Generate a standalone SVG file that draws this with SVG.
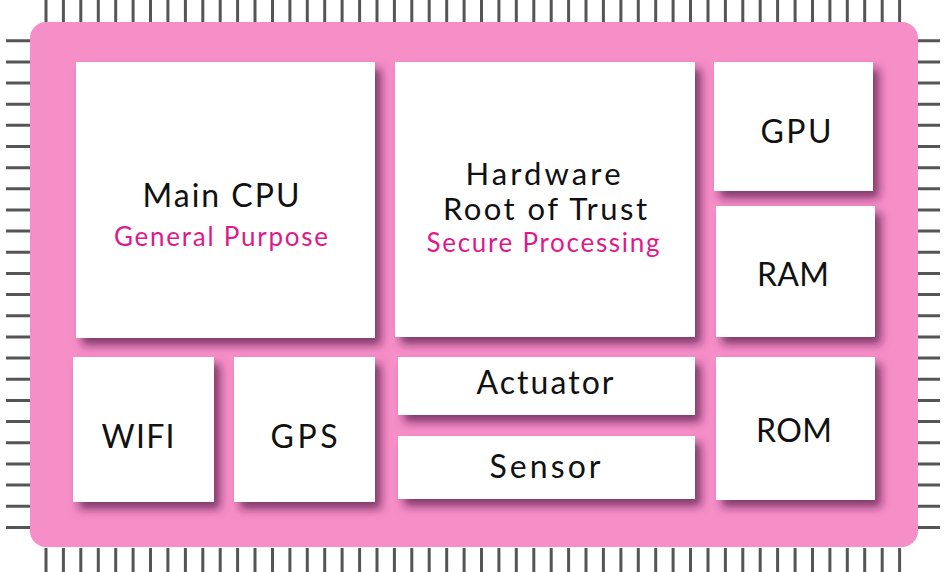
<svg xmlns="http://www.w3.org/2000/svg" width="948" height="572" viewBox="0 0 948 572">
<defs>
<filter id="sh" x="-20%" y="-20%" width="150%" height="150%">
<feDropShadow dx="6" dy="7" stdDeviation="5" flood-color="#5a1d48" flood-opacity="0.75"/>
</filter>
<style>
.pins{fill:none;stroke:#555555;stroke-width:3}
.box{fill:#ffffff;filter:url(#sh)}
.t{font-family:Lato,"Noto Sans","DejaVu Sans",sans-serif;font-size:32px;fill:#111111;text-anchor:middle}
.h{font-size:31px}
.s{font-family:Lato,"Noto Sans","DejaVu Sans",sans-serif;font-size:26px;fill:#e0198b;text-anchor:middle}
</style>
</defs>
<g id="pins">
<path class="pins" d="M46 0V22M63.4 0V22M80.8 0V22M98.3 0V22M115.7 0V22M133.1 0V22M150.5 0V22M167.9 0V22M185.4 0V22M202.8 0V22M220.2 0V22M237.6 0V22M255 0V22M272.5 0V22M289.9 0V22M307.3 0V22M324.7 0V22M342.1 0V22M359.6 0V22M377 0V22M394.4 0V22M411.8 0V22M429.2 0V22M446.7 0V22M464.1 0V22M481.5 0V22M498.9 0V22M516.3 0V22M533.8 0V22M551.2 0V22M568.6 0V22M586 0V22M603.4 0V22M620.9 0V22M638.3 0V22M655.7 0V22M673.1 0V22M690.5 0V22M708 0V22M725.4 0V22M742.8 0V22M760.2 0V22M777.6 0V22M795.1 0V22M812.5 0V22M829.9 0V22M847.3 0V22M864.7 0V22M882.2 0V22M899.6 0V22"/>
<path class="pins" d="M46 548V572M63.4 548V572M80.8 548V572M98.3 548V572M115.7 548V572M133.1 548V572M150.5 548V572M167.9 548V572M185.4 548V572M202.8 548V572M220.2 548V572M237.6 548V572M255 548V572M272.5 548V572M289.9 548V572M307.3 548V572M324.7 548V572M342.1 548V572M359.6 548V572M377 548V572M394.4 548V572M411.8 548V572M429.2 548V572M446.7 548V572M464.1 548V572M481.5 548V572M498.9 548V572M516.3 548V572M533.8 548V572M551.2 548V572M568.6 548V572M586 548V572M603.4 548V572M620.9 548V572M638.3 548V572M655.7 548V572M673.1 548V572M690.5 548V572M708 548V572M725.4 548V572M742.8 548V572M760.2 548V572M777.6 548V572M795.1 548V572M812.5 548V572M829.9 548V572M847.3 548V572M864.7 548V572M882.2 548V572M899.6 548V572"/>
<path class="pins" d="M6 40.7H30M6 61.9H30M6 83H30M6 104.2H30M6 125.3H30M6 146.5H30M6 167.7H30M6 188.8H30M6 210H30M6 231.1H30M6 252.3H30M6 273.5H30M6 294.6H30M6 315.8H30M6 336.9H30M6 358.1H30M6 379.3H30M6 400.4H30M6 421.6H30M6 442.7H30M6 463.9H30M6 485.1H30M6 506.2H30M6 527.4H30"/>
<path class="pins" d="M918 40.7H940M918 61.9H940M918 83H940M918 104.2H940M918 125.3H940M918 146.5H940M918 167.7H940M918 188.8H940M918 210H940M918 231.1H940M918 252.3H940M918 273.5H940M918 294.6H940M918 315.8H940M918 336.9H940M918 358.1H940M918 379.3H940M918 400.4H940M918 421.6H940M918 442.7H940M918 463.9H940M918 485.1H940M918 506.2H940M918 527.4H940"/>
</g>
<g id="chip">
<rect x="30" y="22" width="888" height="525" rx="16" fill="#f68ec8"/>
</g>
<g id="main-cpu">
<rect class="box" x="76" y="62" width="299" height="276"/>
<text class="t" x="221" y="207" textLength="157" lengthAdjust="spacing">Main CPU</text>
<text class="s" x="221" y="246" textLength="214" lengthAdjust="spacing">General Purpose</text>
</g>
<g id="hrot">
<rect class="box" x="395" y="62" width="300" height="275"/>
<text class="t h" x="543" y="185" textLength="155" lengthAdjust="spacing">Hardware</text>
<text class="t h" x="545" y="220" textLength="204" lengthAdjust="spacing">Root of Trust</text>
<text class="s" x="543" y="252" textLength="233" lengthAdjust="spacing">Secure Processing</text>
</g>
<g id="gpu">
<rect class="box" x="714" y="62" width="159" height="129"/>
<text class="t" x="796" y="143" textLength="71" lengthAdjust="spacing">GPU</text>
</g>
<g id="ram">
<rect class="box" x="716" y="206" width="159" height="131"/>
<text class="t" x="793" y="286" textLength="72" lengthAdjust="spacing">RAM</text>
</g>
<g id="wifi">
<rect class="box" x="73" y="357" width="141" height="145"/>
<text class="t" x="138" y="448" textLength="73" lengthAdjust="spacing">WIFI</text>
</g>
<g id="gps">
<rect class="box" x="234" y="357" width="141" height="145"/>
<text class="t" x="304" y="448" textLength="67" lengthAdjust="spacing">GPS</text>
</g>
<g id="actuator">
<rect class="box" x="398" y="357" width="297" height="58"/>
<text class="t" x="545" y="394" textLength="137" lengthAdjust="spacing">Actuator</text>
</g>
<g id="sensor">
<rect class="box" x="398" y="436" width="297" height="63"/>
<text class="t" x="545" y="478" textLength="111" lengthAdjust="spacing">Sensor</text>
</g>
<g id="rom">
<rect class="box" x="716" y="357" width="159" height="143"/>
<text class="t" x="794" y="442" textLength="76" lengthAdjust="spacing">ROM</text>
</g>
<g id="connectors"/>
</svg>
